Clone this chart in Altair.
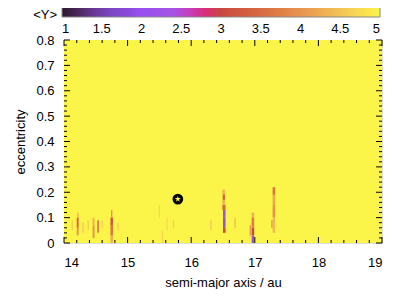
import altair as alt
import pandas as pd

# ---------------- data ----------------
# background of the map (<Y> ~ 5 everywhere except the streaks)
bg_a0 = [14.0]
bg_a1 = [19.0]
bg_e0 = [0.0]
bg_e1 = [0.8]
bg_y = [5.0]

# streak cells: a0, a1, e0, e1, <Y>
cell_a0 = [14.12, 14.20, 14.20, 14.21, 14.29, 14.37, 14.45, 14.45, 14.52, 14.59,
           14.73, 14.73, 14.73, 14.74, 14.84,
           15.49, 15.54, 15.61, 15.71,
           16.30, 16.49, 16.49, 16.50, 16.50, 16.50, 16.50, 16.68,
           16.92, 16.95, 16.95, 16.95, 16.95, 16.96,
           17.26, 17.28, 17.28, 17.28, 17.28]
cell_a1 = [14.14, 14.23, 14.23, 14.23, 14.31, 14.39, 14.48, 14.48, 14.55, 14.61,
           14.77, 14.77, 14.77, 14.76, 14.86,
           15.51, 15.56, 15.63, 15.73,
           16.32, 16.53, 16.54, 16.54, 16.54, 16.54, 16.53, 16.70,
           16.94, 16.99, 16.99, 16.99, 16.99, 16.98,
           17.28, 17.32, 17.32, 17.32, 17.32]
cell_e0 = [0.05, 0.03, 0.06, 0.10, 0.04, 0.05, 0.02, 0.07, 0.04, 0.06,
           0.00, 0.03, 0.07, 0.10, 0.05,
           0.10, 0.00, 0.05, 0.06,
           0.05, 0.15, 0.13, 0.10, 0.06, 0.04, 0.17, 0.06,
           0.03, 0.10, 0.06, 0.03, 0.00, 0.00,
           0.06, 0.19, 0.15, 0.10, 0.04]
cell_e1 = [0.09, 0.06, 0.10, 0.12, 0.08, 0.09, 0.07, 0.10, 0.09, 0.09,
           0.03, 0.07, 0.10, 0.13, 0.08,
           0.15, 0.05, 0.10, 0.09,
           0.09, 0.21, 0.15, 0.13, 0.10, 0.06, 0.19, 0.10,
           0.07, 0.12, 0.10, 0.06, 0.03, 0.015,
           0.09, 0.22, 0.19, 0.15, 0.10]
cell_y = [4.6, 4.0, 3.4, 4.3, 4.5, 4.6, 4.0, 4.3, 3.8, 4.6,
          4.3, 3.6, 3.2, 3.9, 4.6,
          4.7, 4.7, 4.7, 4.6,
          4.5, 4.3, 3.5, 2.1, 1.9, 3.0, 3.3, 4.4,
          4.0, 4.3, 3.7, 3.0, 2.3, 1.9,
          3.8, 3.6, 4.2, 4.0, 4.4]

# marked planet position
star_a = [15.79]
star_e = [0.173]

# axis ticks
x_major = [14, 15, 16, 17, 18, 19]
x_minor = [14.2, 14.4, 14.6, 14.8, 15.2, 15.4, 15.6, 15.8, 16.2, 16.4, 16.6, 16.8,
           17.2, 17.4, 17.6, 17.8, 18.2, 18.4, 18.6, 18.8]
y_major = [0.0, 0.1, 0.2, 0.3, 0.4, 0.5, 0.6, 0.7, 0.8]
y_minor = [0.02, 0.04, 0.06, 0.08, 0.12, 0.14, 0.16, 0.18, 0.22, 0.24, 0.26, 0.28,
           0.32, 0.34, 0.36, 0.38, 0.42, 0.44, 0.46, 0.48, 0.52, 0.54, 0.56, 0.58,
           0.62, 0.64, 0.66, 0.68, 0.72, 0.74, 0.76, 0.78]

# colour bar
cb_ticks = [1, 1.5, 2, 2.5, 3, 3.5, 4, 4.5, 5]
cb_colors = ["#2a1a2c", "#7442b4", "#9850f0", "#a854e0", "#c84840",
             "#d86a42", "#e89450", "#f2c258", "#fbf54a"]

STAR_PATH = ("M0,-1L0.2245,-0.309L0.951,-0.309L0.363,0.118L0.588,0.809L0,0.382"
             "L-0.588,0.809L-0.363,0.118L-0.951,-0.309L-0.2245,-0.309Z")

# ---------------- chart ----------------
W, H = 318, 203
FONT = "Liberation Sans"

xs = alt.Scale(domain=[14, 19], nice=False, zero=False)
ys = alt.Scale(domain=[0, 0.8], nice=False, zero=False)
cs = alt.Scale(domain=cb_ticks, range=cb_colors, clamp=True)

legend = alt.Legend(orient="none", legendX=-2, legendY=-34, direction="horizontal",
                    gradientLength=318, gradientThickness=11, title=None,
                    values=cb_ticks, format="~g", labelFontSize=13, labelFont=FONT,
                    labelAlign="center", labelOffset=6, labelColor="black",
                    gradientStrokeColor="#888888", gradientStrokeWidth=1, padding=0)

bg_df = pd.DataFrame({"a0": bg_a0, "a1": bg_a1, "e0": bg_e0, "e1": bg_e1, "Y": bg_y})
cell_df = pd.DataFrame({"a0": cell_a0, "a1": cell_a1, "e0": cell_e0, "e1": cell_e1, "Y": cell_y})

xaxis = alt.Axis(values=x_major, format="d", title="semi-major axis / au", ticks=False,
                 domain=False, grid=False, labelFontSize=13, titleFontSize=13,
                 labelFont=FONT, titleFont=FONT, labelPadding=13, titlePadding=7,
                 titleFontWeight="normal", labelColor="black", titleColor="black")
yaxis = alt.Axis(values=y_major, format="~g", title="eccentricity", ticks=False,
                 domain=False, grid=False, labelFontSize=13, titleFontSize=13,
                 labelFont=FONT, titleFont=FONT, labelPadding=10, titlePadding=8,
                 titleFontWeight="normal", labelColor="black", titleColor="black")

background = alt.Chart(bg_df).mark_rect().encode(
    x=alt.X("a0:Q", scale=xs, axis=xaxis),
    x2="a1:Q",
    y=alt.Y("e0:Q", scale=ys, axis=yaxis),
    y2="e1:Q",
    color=alt.Color("Y:Q", scale=cs, legend=legend),
)

cells = alt.Chart(cell_df).mark_rect().encode(
    x=alt.X("a0:Q", scale=xs, axis=xaxis), x2="a1:Q",
    y=alt.Y("e0:Q", scale=ys, axis=yaxis), y2="e1:Q",
    color=alt.Color("Y:Q", scale=cs, legend=legend),
)

star_df = pd.DataFrame({"a": star_a, "e": star_e})
circle = alt.Chart(star_df).mark_point(shape="circle", filled=True, color="black",
                                       size=115, opacity=1).encode(
    x=alt.X("a:Q", scale=xs, axis=xaxis), y=alt.Y("e:Q", scale=ys, axis=yaxis))
star = alt.Chart(star_df).mark_point(shape=STAR_PATH, filled=True, color="#fbf54a",
                                     size=40, opacity=1).encode(
    x=alt.X("a:Q", scale=xs, axis=xaxis), y=alt.Y("e:Q", scale=ys, axis=yaxis))

def xticks(vals, length):
    df = pd.DataFrame({"a": vals})
    bot = alt.Chart(df).mark_rule(color="black", strokeWidth=1).encode(
        x=alt.X("a:Q", scale=xs, axis=xaxis), y=alt.value(H), y2=alt.value(H - length))
    top = alt.Chart(df).mark_rule(color="black", strokeWidth=1).encode(
        x=alt.X("a:Q", scale=xs, axis=xaxis), y=alt.value(0), y2=alt.value(length))
    return [bot, top]

def yticks(vals, length):
    df = pd.DataFrame({"e": vals})
    left = alt.Chart(df).mark_rule(color="black", strokeWidth=1).encode(
        y=alt.Y("e:Q", scale=ys, axis=yaxis), x=alt.value(0), x2=alt.value(length))
    right = alt.Chart(df).mark_rule(color="black", strokeWidth=1).encode(
        y=alt.Y("e:Q", scale=ys, axis=yaxis), x=alt.value(W), x2=alt.value(W - length))
    return [left, right]

tick_layers = xticks(x_major, 6) + xticks(x_minor, 3) + yticks(y_major, 6) + yticks(y_minor, 3)

# dashed ticks inside the colour bar (colour-bar value mapped onto the bar's span)
cbt_df = pd.DataFrame({"v": cb_ticks[1:-1]})
cb_rules = alt.Chart(cbt_df).transform_calculate(
    a="14 + (datum.v - 1) * 1.25"
).mark_rule(color="black", strokeWidth=1, strokeDash=[3, 2], xOffset=-2).encode(
    x=alt.X("a:Q", scale=xs, axis=xaxis), y=alt.value(-34), y2=alt.value(-23))

ylabel = alt.Chart(pd.DataFrame({"t": ["<Y>"]})).mark_text(
    align="right", baseline="middle", fontSize=13, font=FONT, color="black"
).encode(x=alt.value(-7), y=alt.value(-25), text="t:N")

chart = alt.layer(background, cells, *tick_layers, circle, star, cb_rules, ylabel).properties(
    width=W, height=H,
    autosize=alt.AutoSizeParams(type="none"),
    padding={"left": 56, "top": 32, "right": 25, "bottom": 46},
).configure_view(stroke="black", strokeWidth=1).configure(background="white")

chart.save("out.html", embed_options={"renderer": "svg", "actions": False})
